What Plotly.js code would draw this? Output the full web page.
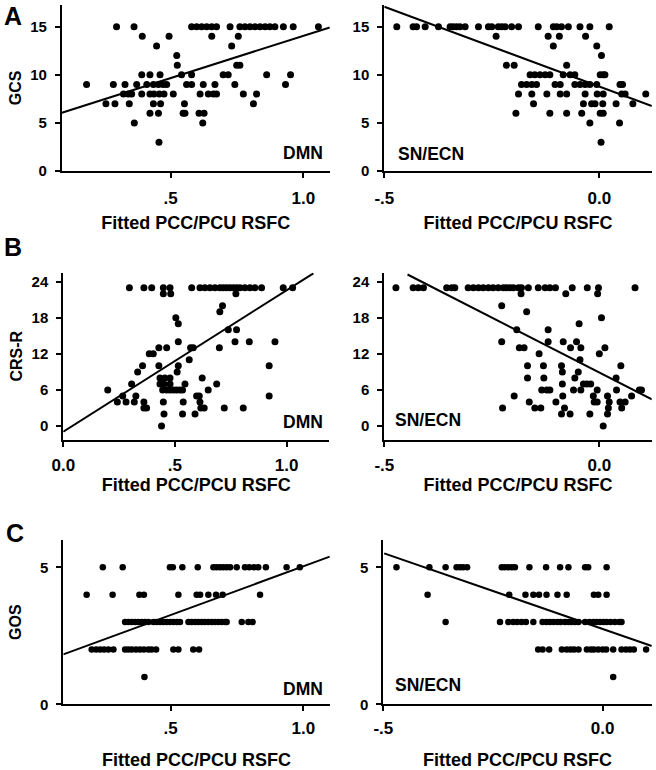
<!DOCTYPE html>
<html>
<head>
<meta charset="utf-8">
<script src="https://cdn.plot.ly/plotly-3.0.1.min.js"></script>
<style>
html,body{margin:0;padding:0;background:#fff;}
#chart{width:656px;height:770px;}
</style>
</head>
<body>
<div id="chart"></div>
<script>
// ---------- DATA ----------
// Panel A: GCS
const gcsDmnX = [0.296,0.362,0.579,0.598,0.617,0.636,0.655,0.673,0.724,0.761,0.780,0.799,0.818,0.837,0.856,0.874,0.893,0.925,0.962,1.057,
  0.393,0.494,0.655,0.755,
  0.447,0.730,
  0.523,
  0.525,0.749,0.761,
  0.391,0.422,0.460,0.541,0.579,0.698,0.717,0.862,0.952,
  0.183,0.284,0.328,0.372,0.410,0.435,0.454,0.472,0.485,0.560,0.579,0.623,0.667,0.742,0.933,
  0.322,0.340,0.353,0.391,0.422,0.437,0.457,0.475,0.510,0.611,0.642,0.661,0.673,0.774,0.824,
  0.256,0.290,0.344,0.435,0.462,0.552,0.812,
  0.422,0.454,0.547,0.554,0.607,0.626,
  0.363,0.621,
  0.456];
const gcsDmnY = [15,15,15,15,15,15,15,15,15,15,15,15,15,15,15,15,15,15,15,15,
  14,14,14,14,
  13,13,
  12,
  11,11,11,
  10,10,10,10,10,10,10,10,10,
  9,9,9,9,9,9,9,9,9,9,9,9,9,9,9,
  8,8,8,8,8,8,8,8,8,8,8,8,8,8,8,
  7,7,7,7,7,7,7,
  6,6,6,6,6,6,
  5,5,
  3];
const gcsSnX = [-0.471,-0.433,-0.425,-0.405,-0.374,-0.347,-0.340,-0.332,-0.324,-0.312,-0.281,-0.258,-0.250,-0.235,-0.227,-0.219,-0.204,-0.188,-0.142,-0.107,-0.099,-0.088,-0.072,-0.045,-0.022,0.023,
  -0.240,-0.119,-0.093,-0.032,
  -0.107,-0.006,
  0.005,
  -0.216,-0.198,-0.076,
  -0.161,-0.150,-0.138,-0.126,-0.115,-0.084,-0.068,-0.057,0.002,0.009,0.013,
  -0.181,-0.169,-0.157,-0.146,-0.103,-0.091,-0.057,-0.045,-0.033,-0.022,-0.006,0.048,0.054,
  -0.188,-0.157,-0.122,-0.091,-0.076,-0.033,-0.005,0.009,0.052,0.060,0.108,
  -0.153,-0.037,-0.018,-0.010,0.008,0.039,0.078,
  -0.194,-0.115,-0.076,-0.041,0.002,0.009,
  -0.022,0.047,
  0.004];
const gcsSnY = [15,15,15,15,15,15,15,15,15,15,15,15,15,15,15,15,15,15,15,15,15,15,15,15,15,15,
  14,14,14,14,
  13,13,
  12,
  11,11,11,
  10,10,10,10,10,10,10,10,10,10,10,
  9,9,9,9,9,9,9,9,9,9,9,9,9,
  8,8,8,8,8,8,8,8,8,8,8,
  7,7,7,7,7,7,7,
  6,6,6,6,6,6,
  5,5,
  3];
// Panel B: CRS-R
const crsDmnX = [0.296,0.361,0.396,0.448,0.478,0.575,0.612,0.634,0.657,0.679,0.701,0.716,0.731,0.746,0.761,0.776,0.791,0.813,0.836,0.858,0.888,0.985,1.027,
  0.448,0.481,0.773,
  0.713,
  0.701,
  0.504,
  0.515,
  0.739,0.776,
  0.515,0.769,0.833,0.948,
  0.428,0.463,0.570,0.582,0.699,
  0.385,0.403,
  0.564,
  0.355,0.428,0.515,0.922,
  0.333,0.510,
  0.433,0.455,0.478,0.622,
  0.306,0.433,0.451,0.478,0.545,0.687,
  0.199,0.445,0.463,0.478,0.493,0.507,0.522,0.534,0.649,
  0.266,0.325,0.597,0.609,0.922,
  0.242,0.281,0.318,0.361,0.448,0.537,0.612,
  0.361,0.373,0.616,0.631,0.721,0.806,
  0.451,0.534,0.590,
  0.440];
const crsDmnY = [23,23,23,23,23,23,23,23,23,23,23,23,23,23,23,23,23,23,23,23,23,23,23,
  22,22,22,
  20,
  19,
  18,
  17,
  16,16,
  14,14,14,14,
  13,13,13,13,13,
  12,12,
  11,
  10,10,10,10,
  9,9,
  8,8,8,8,
  7,7,7,7,7,7,
  6,6,6,6,6,6,6,6,6,
  5,5,5,5,5,
  4,4,4,4,4,4,4,
  3,3,3,3,3,3,
  2,2,2,
  0];
const crsSnX = [-0.473,-0.433,-0.421,-0.409,-0.355,-0.343,-0.336,-0.305,-0.293,-0.281,-0.270,-0.258,-0.247,-0.235,-0.223,-0.216,-0.208,-0.200,-0.188,-0.181,-0.165,-0.142,-0.126,-0.115,-0.102,-0.063,-0.028,-0.002,0.083,
  -0.182,-0.078,-0.004,
  -0.227,
  -0.169,
  0.005,
  -0.047,
  -0.192,-0.119,
  -0.227,-0.119,-0.084,-0.053,
  -0.186,-0.175,-0.067,-0.043,0.013,
  -0.140,0.000,
  -0.045,
  -0.167,-0.130,-0.088,0.050,
  -0.086,-0.049,
  -0.167,-0.129,-0.057,0.039,
  -0.086,-0.037,-0.029,-0.020,
  -0.134,-0.122,-0.115,-0.060,-0.043,-0.005,0.040,0.093,0.098,
  -0.198,-0.085,-0.014,0.019,0.075,
  -0.163,-0.101,-0.012,-0.005,0.023,0.048,0.060,
  -0.225,-0.150,-0.136,-0.081,0.021,0.052,
  -0.088,-0.068,-0.022,0.019,
  0.009];
const crsSnY = [23,23,23,23,23,23,23,23,23,23,23,23,23,23,23,23,23,23,23,23,23,23,23,23,23,23,23,23,23,
  22,22,22,
  20,
  19,
  18,
  17,
  16,16,
  14,14,14,14,
  13,13,13,13,13,
  12,12,
  11,
  10,10,10,10,
  9,9,
  8,8,8,8,
  7,7,7,7,
  6,6,6,6,6,6,6,6,6,
  5,5,5,5,5,
  4,4,4,4,4,4,4,
  3,3,3,3,3,3,
  2,2,2,2,
  0];
// Panel C: GOS
const gosDmnX = [0.244,0.319,0.497,0.508,0.544,0.602,0.661,0.673,0.686,0.698,0.711,0.724,0.749,0.780,0.796,0.814,0.830,0.859,0.937,0.987,
  0.183,0.281,0.382,0.399,0.529,0.598,0.611,0.642,0.671,0.696,0.837,
  0.328,0.340,0.353,0.366,0.378,0.391,0.403,0.416,0.435,0.447,0.460,0.472,0.485,0.497,0.510,0.523,0.535,0.567,0.579,0.592,0.604,0.617,0.629,0.642,0.655,0.667,0.680,0.692,0.705,0.711,0.768,0.793,0.809,
  0.202,0.219,0.234,0.249,0.265,0.284,0.328,0.340,0.353,0.369,0.384,0.399,0.416,0.428,0.445,0.510,0.529,0.585,0.607,
  0.401];
const gosDmnY = [5,5,5,5,5,5,5,5,5,5,5,5,5,5,5,5,5,5,5,5,
  4,4,4,4,4,4,4,4,4,4,4,
  3,3,3,3,3,3,3,3,3,3,3,3,3,3,3,3,3,3,3,3,3,3,3,3,3,3,3,3,3,3,3,3,3,
  2,2,2,2,2,2,2,2,2,2,2,2,2,2,2,2,2,2,2,
  1];
const gosSnX = [-0.470,-0.395,-0.358,-0.333,-0.325,-0.318,-0.309,-0.230,-0.223,-0.215,-0.207,-0.200,-0.167,-0.129,-0.097,-0.078,-0.040,-0.033,0.009,
  -0.399,-0.213,-0.176,-0.158,-0.145,-0.128,-0.103,-0.082,-0.020,-0.010,0.009,
  -0.358,-0.234,-0.215,-0.204,-0.195,-0.185,-0.175,-0.158,-0.137,-0.128,-0.120,-0.112,-0.103,-0.096,-0.086,-0.078,-0.071,-0.063,-0.055,-0.040,-0.030,-0.021,-0.014,-0.006,0.002,0.009,0.018,0.028,0.038,0.043,
  -0.147,-0.137,-0.122,-0.093,-0.082,-0.073,-0.065,-0.055,-0.036,-0.027,-0.020,-0.010,0.000,0.008,0.024,0.043,0.053,0.062,0.071,0.099,
  0.024];
const gosSnY = [5,5,5,5,5,5,5,5,5,5,5,5,5,5,5,5,5,5,5,
  4,4,4,4,4,4,4,4,4,4,4,
  3,3,3,3,3,3,3,3,3,3,3,3,3,3,3,3,3,3,3,3,3,3,3,3,3,3,3,3,3,3,
  2,2,2,2,2,2,2,2,2,2,2,2,2,2,2,2,2,2,2,2,
  1];

// Regression line end points
const fitGcsDmnX = [0.09, 1.1],   fitGcsDmnY = [6.06, 14.93];
const fitGcsSnX  = [-0.5, 0.122], fitGcsSnY  = [17.08, 6.75];
const fitCrsDmnX = [0.0, 1.12],   fitCrsDmnY = [-0.94, 25.4];
const fitCrsSnX  = [-0.446, 0.122], fitCrsSnY = [25.2, 4.43];
const fitGosDmnX = [0.095, 1.1],  fitGosDmnY = [1.82, 5.39];
const fitGosSnX  = [-0.498, 0.112], fitGosSnY = [5.51, 2.13];

// Tick labels
const dmnTickVals = [0.5, 1.0],        dmnTickText = ['.5', '1.0'];
const dmnTickValsB = [0.0, 0.5, 1.0],  dmnTickTextB = ['0.0', '.5', '1.0'];
const snTickVals = [-0.5, 0.0],        snTickText = ['-.5', '0.0'];
const gcsTicks = [0, 5, 10, 15];
const crsTicks = [0, 6, 12, 18, 24];
const gosTicks = [0, 5];

const panelLetters = ['A', 'B', 'C'];
const yTitles = ['GCS', 'CRS-R', 'GOS'];
const xTitle = 'Fitted PCC/PCU RSFC';
const netLabels = ['DMN', 'SN/ECN'];

// ---------- LAYOUT / TRACES ----------
const W = 656, H = 770;
const FAM = '"Liberation Sans", Arial, Helvetica, sans-serif';
const px2x = p => p / W;
const py2y = p => 1 - p / H;
const B = s => '<b>' + s + '</b>';
const fnt = size => ({family: FAM, size: size, weight: 'bold', color: '#000'});

function scat(x, y, ax, msize) {
  return {x: x, y: y, xaxis: 'x' + ax, yaxis: 'y' + ax, type: 'scatter', mode: 'markers',
    marker: {color: '#000', size: msize, line: {width: 0}}, hoverinfo: 'skip', showlegend: false, cliponaxis: false};
}
function fit(x, y, ax) {
  return {x: x, y: y, xaxis: 'x' + ax, yaxis: 'y' + ax, type: 'scatter', mode: 'lines',
    line: {color: '#000', width: 2}, hoverinfo: 'skip', showlegend: false};
}

const traces = [
  scat(gcsDmnX, gcsDmnY, '', 7), fit(fitGcsDmnX, fitGcsDmnY, ''),
  scat(gcsSnX, gcsSnY, '2', 7), fit(fitGcsSnX, fitGcsSnY, '2'),
  scat(crsDmnX, crsDmnY, '3', 7), fit(fitCrsDmnX, fitCrsDmnY, '3'),
  scat(crsSnX, crsSnY, '4', 7), fit(fitCrsSnX, fitCrsSnY, '4'),
  scat(gosDmnX, gosDmnY, '5', 6.5), fit(fitGosDmnX, fitGosDmnY, '5'),
  scat(gosSnX, gosSnY, '6', 6.5), fit(fitGosSnX, fitGosSnY, '6')
];

const baseAx = {
  showline: true, linecolor: '#000', linewidth: 2, mirror: false,
  ticks: 'outside', ticklen: 5, tickwidth: 2, tickcolor: '#000',
  showgrid: false, zeroline: false, fixedrange: true, automargin: false
};
function xax(domain, range, anchor, tv, tt, lblOff, standoff) {
  return Object.assign({}, baseAx, {
    domain: domain, range: range, anchor: anchor, tickmode: 'array', tickvals: tv, ticktext: tt.map(B),
    tickfont: fnt(17), ticklabelstandoff: lblOff,
    title: {text: B(xTitle), font: fnt(18), standoff: standoff}
  });
}
function yax(domain, range, anchor, tv, title, titleStandoff) {
  const o = Object.assign({}, baseAx, {
    domain: domain, range: range, anchor: anchor, tickmode: 'array', tickvals: tv, ticktext: tv.map(v => B(String(v))),
    tickfont: fnt(15), ticklabelstandoff: 5
  });
  if (title) o.title = {text: B(title), font: fnt(16), standoff: titleStandoff};
  return o;
}

const rowA = [py2y(171), py2y(4.6)];
const rowB = [py2y(439.8), py2y(272.7)];
const rowC = [py2y(704.3), py2y(539.9)];
const colL_A = [px2x(61.9), px2x(329.8)];
const colL_B = [px2x(63.3), px2x(329.0)];
const colL_C = [px2x(63.3), px2x(329.8)];
const colR_AB = [px2x(384.3), px2x(651.8)];
const colR_C = [px2x(383.3), px2x(651.8)];

const layout = {
  width: W, height: H,
  margin: {l: 0, r: 0, t: 0, b: 0, pad: 0},
  paper_bgcolor: '#fff', plot_bgcolor: 'rgba(0,0,0,0)',
  font: {family: FAM, color: '#000'},
  showlegend: false,
  xaxis:  xax(colL_A, [0.09, 1.1], 'y', dmnTickVals, dmnTickText, 6, 9),
  yaxis:  yax(rowA, [0, 17.3], 'x', gcsTicks, yTitles[0], 5),
  xaxis2: xax(colR_AB, [-0.5, 0.122], 'y2', snTickVals, snTickText, 6, 9),
  yaxis2: yax(rowA, [0, 17.3], 'x2', gcsTicks, null),
  xaxis3: xax(colL_B, [0, 1.19], 'y3', dmnTickValsB, dmnTickTextB, 4, 2),
  yaxis3: yax(rowB, [-2.3, 25.5], 'x3', crsTicks, yTitles[1], 5),
  xaxis4: xax(colR_AB, [-0.5, 0.122], 'y4', snTickVals, snTickText, 4, 2),
  yaxis4: yax(rowB, [-2.3, 25.5], 'x4', crsTicks, null),
  xaxis5: xax(colL_C, [0.095, 1.1], 'y5', dmnTickVals, dmnTickText, 2, 17),
  yaxis5: yax(rowC, [0, 6], 'x5', gosTicks, yTitles[2], 14),
  xaxis6: xax(colR_C, [-0.5, 0.112], 'y6', snTickVals, snTickText, 2, 17),
  yaxis6: yax(rowC, [0, 6], 'x6', gosTicks, null),
  annotations: []
};

// panel letters
[[2, 16], [2, 247.5], [4, 533]].forEach((p, i) => {
  layout.annotations.push({text: B(panelLetters[i]), xref: 'paper', yref: 'paper', x: px2x(p[0]), y: py2y(p[1]),
    xanchor: 'left', yanchor: 'middle', showarrow: false, font: fnt(25)});
});
// network labels
[[325, 152.5, 'right'], [396, 153.5, 'left'], [325, 421.5, 'right'], [393, 420, 'left'], [325, 688.5, 'right'], [393, 685, 'left']]
  .forEach((p, i) => {
    layout.annotations.push({text: B(netLabels[i % 2]), xref: 'paper', yref: 'paper', x: px2x(p[0]), y: py2y(p[1]),
      xanchor: p[2], yanchor: 'middle', showarrow: false, font: fnt(17.5)});
  });

Plotly.newPlot('chart', traces, layout, {displayModeBar: false, staticPlot: true});
</script>
</body>
</html>
